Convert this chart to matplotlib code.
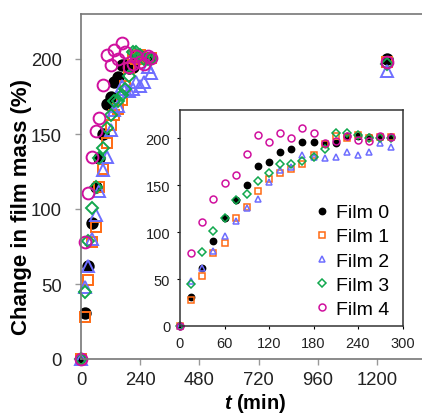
import numpy as np
import matplotlib.pyplot as plt

plt.rcParams['font.family'] = ['Liberation Sans', 'DejaVu Sans']
plt.rcParams['mathtext.fontset'] = 'custom'
plt.rcParams['mathtext.it'] = 'Liberation Sans:italic:bold'
plt.rcParams['mathtext.rm'] = 'Liberation Sans:bold'

# time points (min)
t = [0, 15, 30, 45, 60, 75, 90, 105, 120, 135, 150, 165, 180, 195, 210, 225, 240, 255, 270, 285]
t_long = 1240

film0 = [0, 31, 62, 91, 115, 134, 150, 170, 175, 185, 188, 196, 196, 194, 195, 202, 202, 201, 201, 201]
film1 = [0, 28, 53, 78, 88, 115, 127, 144, 156, 163, 167, 173, 182, 194, 202, 200, 203, 200, 201, 201]
film2 = [0, 48, 62, 80, 96, 112, 126, 135, 153, 166, 169, 182, 180, 179, 180, 185, 182, 185, 195, 191]
film3 = [0, 45, 79, 101, 115, 134, 141, 154, 163, 172, 172, 176, 180, 189, 205, 205, 203, 200, 200, 200]
film4 = [0, 78, 111, 135, 152, 161, 183, 203, 196, 206, 200, 211, 205, 195, 197, 202, 198, 197, 202, 201]
long_vals = [200, 198, 192, 197, 198]

labels = ['Film 0', 'Film 1', 'Film 2', 'Film 3', 'Film 4']
series = [film0, film1, film2, film3, film4]
styles = [
    dict(marker='o', mfc='black', mec='black'),
    dict(marker='s', mfc='none', mec='#FF6A13'),
    dict(marker='^', mfc='none', mec='#6E6EFF'),
    dict(marker='D', mfc='none', mec='#11A84E'),
    dict(marker='o', mfc='none', mec='#D0109E'),
]
big = [7.5, 7, 8.5, 6.5, 8.5]
small = [4.5, 4.5, 5, 4, 5]

fig = plt.figure(figsize=(4.22, 4.14), dpi=100)

# main axes (right side runs past the figure edge)
ax = fig.add_axes([81/422, 54/414, 355/422, 345/414])
for i in range(5):
    ax.plot(t + [t_long], series[i] + [long_vals[i]], ls='none', ms=big[i], mew=1.4,
            clip_on=False, **styles[i])
ax.set_xlim(0, 1440)
ax.set_ylim(0, 230)
ax.set_xticks([0, 240, 480, 720, 960, 1200])
ax.set_yticks([0, 50, 100, 150, 200])
for s in ax.spines.values():
    s.set_color('#777777')
    s.set_linewidth(1.2)
ax.tick_params(direction='out', length=4.5, width=1, color='#999999', labelsize=13.3,
               labelcolor='#222222')
ax.tick_params(axis='y', pad=9.5)
ax.tick_params(axis='x', pad=4.5)
ax.set_xlabel(r'$t$ (min)', fontsize=14.5, fontweight='bold')
ax.set_ylabel('Change in film mass (%)', fontsize=16, fontweight='bold')
ax.xaxis.set_label_coords(0.49, -0.092)
ax.yaxis.set_label_coords(-0.137, 0.443)

# inset
ins = fig.add_axes([180/422, 87/414, 222.5/422, 216/414])
for i in range(5):
    ins.plot(t, series[i], ls='none', ms=small[i], mew=1.1, label=labels[i],
             clip_on=False, **styles[i])
ins.set_xlim(0, 300)
ins.set_ylim(0, 230)
ins.set_xticks([0, 60, 120, 180, 240, 300])
ins.set_yticks([0, 50, 100, 150, 200])
for s in ins.spines.values():
    s.set_color('#333333')
    s.set_linewidth(1.1)
ins.tick_params(direction='out', length=2, width=0.8, labelsize=10.5, labelcolor='#222222', pad=5)
ins.legend(loc='lower right', bbox_to_anchor=(0.993, -0.015), frameon=False, fontsize=14,
           handletextpad=0.1, labelspacing=0.33, handlelength=1.2, borderpad=0.1)

fig.savefig('out.png', dpi=100)
